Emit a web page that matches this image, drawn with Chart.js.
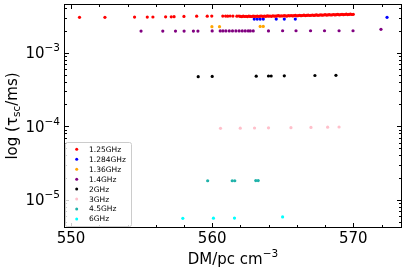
<!DOCTYPE html>
<html>
<head>
<meta charset="utf-8">
<script src="https://cdn.jsdelivr.net/npm/chart.js@4"></script>
<style>
  html, body { margin: 0; padding: 0; background: #fff; }
  #wrap { width: 407px; height: 272px; }
</style>
</head>
<body>
<div id="wrap"><canvas id="myChart" width="407" height="272"></canvas></div>
<script>
// series labels and colours
const labels = ['1.25GHz', '1.284GHz', '1.36GHz', '1.4GHz', '2GHz', '3GHz', '4.5GHz', '6GHz'];
const colors = ['#ff0000', '#0000ff', '#ffa500', '#800080', '#000000', '#ffc0cb', '#20b2aa', '#00ffff'];

// 1.25GHz
const dm125 = [550.6, 552.4, 554.5, 555.4, 555.8, 556.7, 557.1, 557.3, 558.0, 558.9, 559.65, 559.97,
  560.75, 560.95, 561.1, 561.27, 561.47, 561.75, 561.9,
  562.0, 562.1, 562.2, 562.3, 562.4, 562.5, 562.6, 562.7, 562.8, 562.9, 563.0,
  563.1, 563.2, 563.3, 563.4, 563.5, 563.6, 563.7, 563.8, 563.9, 564.0,
  564.1, 564.2, 564.3, 564.4, 564.5, 564.6, 564.7, 564.8, 564.9, 565.0,
  565.1, 565.2, 565.3, 565.4, 565.5, 565.6, 565.7, 565.8, 565.9, 566.0,
  566.1, 566.2, 566.3, 566.4, 566.5, 566.6, 566.7, 566.8, 566.9, 567.0,
  567.1, 567.2, 567.3, 567.4, 567.5, 567.6, 567.7, 567.8, 567.9, 568.0,
  568.1, 568.2, 568.3, 568.4, 568.5, 568.6, 568.7, 568.8, 568.9, 569.0,
  569.1, 569.2, 569.3, 569.4, 569.5, 569.6, 569.7, 569.8, 569.9, 570.0];
const tau125 = [3.03e-3, 3.03e-3, 3.05e-3, 3.05e-3, 3.06e-3, 3.08e-3, 3.08e-3, 3.09e-3, 3.12e-3, 3.14e-3, 3.14e-3, 3.15e-3,
  3.15e-3, 3.15e-3, 3.14e-3, 3.16e-3, 3.15e-3, 3.14e-3, 3.16e-3,
  3.12e-3, 3.10e-3, 3.14e-3, 3.11e-3, 3.13e-3, 3.10e-3, 3.15e-3, 3.12e-3, 3.11e-3, 3.14e-3, 3.12e-3,
  3.13e-3, 3.15e-3, 3.11e-3, 3.14e-3, 3.16e-3, 3.12e-3, 3.15e-3, 3.13e-3, 3.17e-3, 3.14e-3,
  3.16e-3, 3.13e-3, 3.18e-3, 3.15e-3, 3.14e-3, 3.17e-3, 3.19e-3, 3.15e-3, 3.18e-3, 3.16e-3,
  3.19e-3, 3.17e-3, 3.15e-3, 3.20e-3, 3.18e-3, 3.21e-3, 3.17e-3, 3.19e-3, 3.22e-3, 3.18e-3,
  3.20e-3, 3.23e-3, 3.19e-3, 3.21e-3, 3.24e-3, 3.20e-3, 3.22e-3, 3.25e-3, 3.21e-3, 3.23e-3,
  3.26e-3, 3.22e-3, 3.24e-3, 3.27e-3, 3.23e-3, 3.25e-3, 3.28e-3, 3.24e-3, 3.26e-3, 3.29e-3,
  3.25e-3, 3.27e-3, 3.30e-3, 3.26e-3, 3.28e-3, 3.31e-3, 3.27e-3, 3.29e-3, 3.32e-3, 3.28e-3,
  3.30e-3, 3.33e-3, 3.29e-3, 3.31e-3, 3.34e-3, 3.30e-3, 3.32e-3, 3.35e-3, 3.31e-3, 3.33e-3];

// 1.284GHz
const dm1284 = [562.98, 563.19, 563.4, 563.62, 564.54, 565.11, 565.89, 572.39];
const tau1284 = [2.87e-3, 2.87e-3, 2.87e-3, 2.87e-3, 2.87e-3, 2.87e-3, 2.87e-3, 3.03e-3];

// 1.36GHz
const dm136 = [559.98, 560.52, 563.4, 563.62];
const tau136 = [2.26e-3, 2.26e-3, 2.28e-3, 2.28e-3];

// 1.4GHz
const dm14 = [554.96, 556.5, 557.4, 558.01, 558.67, 558.99, 560.0, 560.57, 560.76, 560.97, 561.21, 561.44,
  561.68, 561.91, 562.13, 562.34, 562.55, 562.7, 562.91, 563.99, 564.99, 565.94, 566.97, 567.96,
  568.99, 569.98, 571.96];
const tau14 = [1.97e-3, 1.97e-3, 1.97e-3, 1.97e-3, 1.97e-3, 1.97e-3, 1.98e-3, 1.98e-3, 1.98e-3, 1.98e-3, 1.98e-3, 1.98e-3,
  1.98e-3, 1.98e-3, 1.98e-3, 1.98e-3, 1.98e-3, 1.98e-3, 1.98e-3, 1.98e-3, 1.99e-3, 1.99e-3, 1.99e-3, 1.99e-3,
  1.99e-3, 1.99e-3, 2.08e-3];

// 2GHz
const dm2 = [559.01, 560.0, 563.12, 563.99, 564.18, 565.11, 567.28, 568.77];
const tau2 = [4.72e-4, 4.75e-4, 4.8e-4, 4.82e-4, 4.82e-4, 4.85e-4, 4.9e-4, 4.93e-4];

// 3GHz
const dm3 = [560.59, 561.99, 563.0, 563.99, 565.58, 567.0, 568.18, 568.99];
const tau3 = [9.36e-5, 9.4e-5, 9.45e-5, 9.5e-5, 9.55e-5, 9.62e-5, 9.7e-5, 9.75e-5];

// 4.5GHz
const dm45 = [559.68, 561.42, 561.6, 563.09, 563.26];
const tau45 = [1.81e-5, 1.81e-5, 1.81e-5, 1.82e-5, 1.82e-5];

// 6GHz
const dm6 = [557.92, 560.09, 561.58, 564.99];
const tau6 = [5.58e-6, 5.6e-6, 5.62e-6, 5.82e-6];

// axis ticks
const xMajor = [550, 560, 570];
const xMinor = [552, 554, 556, 558, 562, 564, 566, 568, 572];
const yMajor = [1e-5, 1e-4, 1e-3];
const yExp = ['\u22125', '\u22124', '\u22123'];
const yMinor = [5e-6, 6e-6, 7e-6, 8e-6, 9e-6, 2e-5, 3e-5, 4e-5, 5e-5, 6e-5, 7e-5, 8e-5, 9e-5,
  2e-4, 3e-4, 4e-4, 5e-4, 6e-4, 7e-4, 8e-4, 9e-4, 2e-3, 3e-3, 4e-3];

const xs = [dm125, dm1284, dm136, dm14, dm2, dm3, dm45, dm6];
const ys = [tau125, tau1284, tau136, tau14, tau2, tau3, tau45, tau6];

const FONT = '"DejaVu Sans", sans-serif';

const datasets = labels.map((lab, i) => ({
  label: lab,
  data: xs[i].map((v, j) => ({ x: v, y: ys[i][j] })),
  backgroundColor: colors[i],
  borderColor: colors[i],
  pointRadius: 1.6,
  pointBorderWidth: 0,
  showLine: false
}));

// measure text made of base / sup / sub pieces
function mathText(ctx, parts, size) {
  let w = 0;
  parts.forEach(p => {
    const s = p.k === 'base' ? size : size * 0.7;
    ctx.font = `${s}px ${FONT}`;
    p.w = ctx.measureText(p.t).width;
    p.s = s;
    w += p.w;
  });
  return w;
}
function drawParts(ctx, parts, x, baseline, size) {
  ctx.textAlign = 'left';
  ctx.textBaseline = 'alphabetic';
  let cx = x;
  parts.forEach(p => {
    ctx.font = `${p.s}px ${FONT}`;
    let dy = 0;
    if (p.k === 'sup') dy = -size * 0.45;
    if (p.k === 'sub') dy = size * 0.2;
    ctx.fillText(p.t, cx, baseline + dy);
    cx += p.w;
  });
}

const decor = {
  id: 'decor',
  afterDraw(chart) {
    const { ctx, chartArea: { left, right, top, bottom }, scales: { x, y } } = chart;
    ctx.save();
    ctx.strokeStyle = '#000';
    ctx.fillStyle = '#000';
    ctx.lineWidth = 1;

    // frame
    ctx.strokeRect(left + 0.5, top + 0.5, right - left - 1, bottom - top - 1);

    // inward ticks on all sides
    ctx.beginPath();
    const tickX = (v, len) => {
      const px = Math.round(x.getPixelForValue(v)) + 0.5;
      ctx.moveTo(px, bottom); ctx.lineTo(px, bottom - len);
      ctx.moveTo(px, top); ctx.lineTo(px, top + len);
    };
    const tickY = (v, len) => {
      const py = Math.round(y.getPixelForValue(v)) + 0.5;
      ctx.moveTo(left, py); ctx.lineTo(left + len, py);
      ctx.moveTo(right, py); ctx.lineTo(right - len, py);
    };
    xMajor.forEach(v => tickX(v, 5));
    xMinor.forEach(v => tickX(v, 3));
    yMajor.forEach(v => tickY(v, 5));
    yMinor.forEach(v => tickY(v, 3));
    ctx.stroke();

    // x tick labels
    ctx.font = `15px ${FONT}`;
    ctx.textAlign = 'center';
    ctx.textBaseline = 'alphabetic';
    xMajor.forEach(v => ctx.fillText(String(v), x.getPixelForValue(v), 243));

    // y tick labels 10^n
    yMajor.forEach((v, i) => {
      const parts = [{ t: '10', k: 'base' }, { t: yExp[i], k: 'sup' }];
      const w = mathText(ctx, parts, 15);
      const py = y.getPixelForValue(v);
      drawParts(ctx, parts, left - 4 - w, py + 5.5, 15);
    });

    // x title
    const xt = [{ t: 'DM/pc cm', k: 'base' }, { t: '\u22123', k: 'sup' }];
    const xw = mathText(ctx, xt, 15);
    drawParts(ctx, xt, (left + right) / 2 - xw / 2, 264, 15);

    // y title
    const yt = [{ t: 'log (\u03c4', k: 'base' }, { t: 'sc', k: 'sub' }, { t: '/ms)', k: 'base' }];
    const yw = mathText(ctx, yt, 15);
    ctx.save();
    ctx.translate(17, (top + bottom) / 2);
    ctx.rotate(-Math.PI / 2);
    drawParts(ctx, yt, -yw / 2, 0, 15);
    ctx.restore();

    // legend
    const lx = 65.5, ly = 142.5, lw = 66, lh = 84;
    ctx.beginPath();
    ctx.roundRect(lx, ly, lw, lh, 2);
    ctx.fillStyle = 'rgba(255,255,255,0.8)';
    ctx.fill();
    ctx.strokeStyle = '#cccccc';
    ctx.stroke();
    ctx.font = `7.5px ${FONT}`;
    ctx.textAlign = 'left';
    ctx.textBaseline = 'middle';
    chart.data.datasets.forEach((ds, i) => {
      const ry = 149.3 + i * 9.95;
      ctx.beginPath();
      ctx.arc(76.7, ry, 1.5, 0, Math.PI * 2);
      ctx.fillStyle = ds.backgroundColor;
      ctx.fill();
      ctx.fillStyle = '#000';
      ctx.fillText(ds.label, 89, ry + 0.5);
    });
    ctx.restore();
  }
};

new Chart(document.getElementById('myChart'), {
  type: 'scatter',
  data: { datasets },
  options: {
    responsive: false,
    animation: false,
    layout: { padding: { left: 64, right: 5, top: 4, bottom: 44 } },
    scales: {
      x: { type: 'linear', min: 549.5, max: 573.45, display: false },
      y: { type: 'logarithmic', min: 4.12e-6, max: 4.6e-3, display: false }
    },
    plugins: { legend: { display: false }, tooltip: { enabled: false } }
  },
  plugins: [decor]
});
</script>
</body>
</html>
